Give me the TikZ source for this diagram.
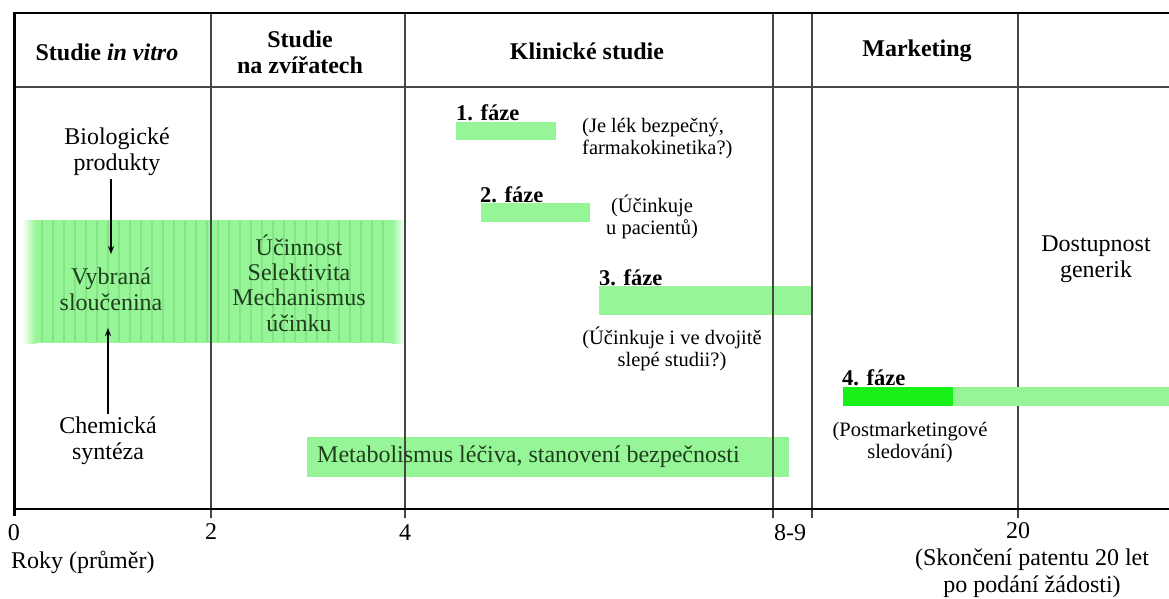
\documentclass[tikz,border=0pt]{standalone}
\usepackage{fontspec}
\setmainfont{Liberation Serif}
\usetikzlibrary{arrows.meta}
\definecolor{lgreen}{RGB}{150,245,150}
\definecolor{sgreen}{RGB}{132,228,132}
\definecolor{bgreen}{RGB}{25,240,25}
\definecolor{dgtext}{RGB}{30,62,30}
\definecolor{framegray}{RGB}{70,70,70}
\begin{document}
\begin{tikzpicture}[x=1pt,y=-1pt,
  hdr/.style={font=\fontsize{24}{26}\selectfont\bfseries, align=center, inner sep=0pt},
  body/.style={font=\fontsize{24}{26}\selectfont, align=center, inner sep=3.3pt},
  note/.style={font=\fontsize{20.5}{22}\selectfont, align=center, inner sep=0pt},
  phase/.style={font=\fontsize{22.5}{24}\selectfont\bfseries, anchor=west, inner sep=0pt},
  gridline/.style={line width=1.5pt, draw=framegray},
  arr/.style={line width=1.2pt, -{Stealth[length=8pt,width=6pt]}}
]
\useasboundingbox (0,0) rectangle (1169,598);
\fill[white] (0,0) rectangle (1169,598);

% green band (in vitro + animal studies)
\fill[lgreen] (36,220) rectangle (392,343);
\shade[left color=white,right color=lgreen] (22,220) rectangle (36,343);
\shade[left color=lgreen,right color=white] (392,220) rectangle (405,343);
\foreach \x in {42,53,...,390} \draw[sgreen,line width=1.2pt] (\x,221) -- (\x,342);

% phase bars
\fill[lgreen] (456,122) rectangle (556,140);
\fill[lgreen] (481,203) rectangle (590,222);
\fill[lgreen] (599,286) rectangle (812,315);
\fill[lgreen] (307,437) rectangle (789,477);

% frame and grid
\draw[gridline] (14,87) -- (1169,87);
\foreach \x in {211,405,773,812,1018} \draw[gridline] (\x,13) -- (\x,518);
\draw[line width=2.5pt] (14,13) -- (1169,13);
\draw[line width=3pt] (14,12) -- (14,516);
\draw[line width=2.5pt] (14,509) -- (1169,509);

% phase 4 bar (over the grid)
\fill[lgreen] (953,387) rectangle (1169,406);
\fill[bgreen] (843,387) rectangle (953,406);

% headers
\node[hdr] (h1) at (107,52) {Studie \textit{in vitro}};
\node[hdr] (h2) at (300,52) {Studie\\na zvířatech};
\node[hdr] (h3) at (587,51) {Klinické studie};
\node[hdr] (h4) at (917,51) {Marketing};

% in vitro column
\node[body] (bio) at (117,152) {Biologické\\produkty};
\node[body, text=dgtext] (vyb) at (111,289) {Vybraná\\sloučenina};
\node[body] (chem) at (108,441) {Chemická\\syntéza};
\draw[arr, shorten >=10pt] (vyb.north |- bio.south) -- (vyb.north);
\draw[arr, shorten >=14pt] (chem.north) -- (chem.north |- vyb.south);

% animal studies
\node[body, text=dgtext, font=\fontsize{24}{25.3}\selectfont] (ucin) at (299,283) {Účinnost\\Selektivita\\Mechanismus\\účinku};

% clinical phases
\node[phase] (p1) at (456,113) {1. fáze};
\node[note, align=left, anchor=west] (n1) at (582,139) {(Je lék bezpečný,\\farmakokinetika?)};
\node[phase] (p2) at (480,195) {2. fáze};
\node[note] (n2) at (652,217) {(Účinkuje\\u pacientů)};
\node[phase] (p3) at (599,278) {3. fáze};
\node[note] (n3) at (672,349) {(Účinkuje i ve dvojitě\\slepé studii?)};
\node[phase] (p4) at (842,378) {4. fáze};
\node[note] (n4) at (910,443) {(Postmarketingové\\sledování)};

\node[body, text=dgtext, anchor=west, inner sep=0pt] (met) at (317,457) {Metabolismus léčiva, stanovení bezpečnosti};

\node[body] (gen) at (1096,259) {Dostupnost\\generik};

% axis labels
\node[body, inner sep=0pt] (t0) at (14,533) {0};
\node[body, inner sep=0pt] (t2) at (211,532) {2};
\node[body, inner sep=0pt] (t4) at (405,533) {4};
\node[body, inner sep=0pt] (t89) at (790,533) {8-9};
\node[body, inner sep=0pt] (t20) at (1018,531) {20};
\node[body, anchor=west, inner sep=0pt] (roky) at (11,562) {Roky (průměr)};
\node[body, inner sep=0pt, font=\fontsize{24}{26.5}\selectfont] (pat) at (1032,573) {(Skončení patentu 20 let\\po podání žádosti)};
\end{tikzpicture}
\end{document}
